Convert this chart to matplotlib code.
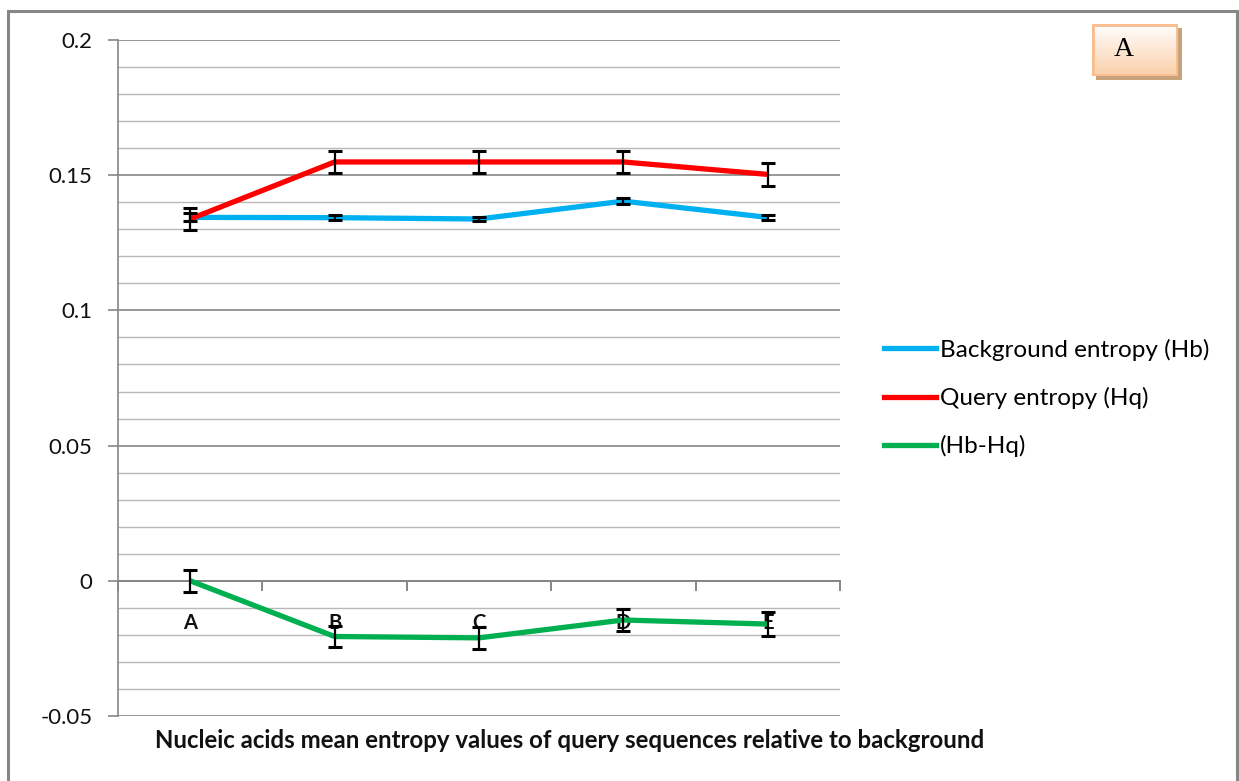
import numpy as np
import matplotlib
matplotlib.use("Agg")
import matplotlib.pyplot as plt
from matplotlib.lines import Line2D
from matplotlib.patches import Rectangle

# ---- data ----
categories = ["A", "B", "C", "D", "E"]
hb = [0.1344, 0.1343, 0.1338, 0.1404, 0.1344]
hb_err = [0.0015, 0.0008, 0.0007, 0.0012, 0.0010]
hq = [0.1338, 0.1549, 0.1549, 0.1549, 0.1503]
hq_err = [0.0040, 0.0040, 0.0040, 0.0040, 0.0043]
diff = [0.0000, -0.0206, -0.0211, -0.0145, -0.0160]
diff_err = [0.0040, 0.0038, 0.0040, 0.0040, 0.0043]
series_names = ["Background entropy (Hb)", "Query entropy (Hq)", "(Hb-Hq)"]
series_colors = ["#00B0F0", "#FF0000", "#00B050"]
y_ticks = [-0.05, 0, 0.05, 0.1, 0.15, 0.2]
y_tick_labels = ["-0.05", "0", "0.05", "0.1", "0.15", "0.2"]
x_title = "Nucleic acids mean entropy values of query sequences relative to background"

W, H = 1239, 781
fig = plt.figure(figsize=(W / 100, H / 100), dpi=100)
fig.patch.set_facecolor("white")

font = "Lato"

# outer chart border
fig.add_artist(Rectangle((8 / W, -0.05), (1237 - 8) / W, (H - 11) / H + 0.05,
                         transform=fig.transFigure, fill=False,
                         edgecolor="#868686", linewidth=2.2))

ax = fig.add_axes([118 / W, (H - 716) / H, (840 - 118) / W, (716 - 40) / H])
x = np.arange(len(categories))

ax.set_xlim(-0.5, len(categories) - 0.5)
ax.set_ylim(-0.05, 0.2)

# gridlines: light every 0.01, darker at the labelled values
for v in np.arange(-0.05, 0.2001, 0.01):
    major = any(abs(v - t) < 1e-9 for t in y_ticks)
    ax.axhline(v, color="#868686" if major else "#B8B8B8",
               linewidth=1.2 if major else 1.0, zorder=1)

for s in ["top", "right"]:
    ax.spines[s].set_visible(False)
ax.spines["left"].set_color("#868686")
ax.spines["left"].set_linewidth(1.2)
ax.spines["bottom"].set_position(("data", 0))
ax.spines["bottom"].set_color("#868686")
ax.spines["bottom"].set_linewidth(1.4)

ax.set_yticks(y_ticks)
ax.set_yticklabels(y_tick_labels, fontfamily=font, fontsize=16, color="#111111")
ax.tick_params(axis="y", length=7.5, width=1.2, color="#868686", pad=11)

ax.set_xticks(x)
ax.set_xticklabels(categories, fontfamily=font, fontsize=14.5,
                   fontweight="bold", color="#111111")
ax.tick_params(axis="x", which="major", length=0, pad=23)
ax.set_xticks(np.arange(-0.5, len(categories)), minor=True)
ax.tick_params(axis="x", which="minor", length=7, width=1.4, color="#868686",
               direction="out")

for vals, errs, col in zip([hb, hq, diff], [hb_err, hq_err, diff_err], series_colors):
    ax.plot(x, vals, color=col, linewidth=3.8, solid_capstyle="butt", zorder=3)
    ax.errorbar(x, vals, yerr=errs, fmt="none", ecolor="black",
                elinewidth=1.6, capsize=5, capthick=2.2, zorder=4)

handles = [Line2D([0], [0], color=c, linewidth=3.8) for c in series_colors]
fig.legend(handles, series_names, loc="center left",
           bbox_to_anchor=(874 / W, 1 - 398 / H), frameon=False,
           prop={"family": font, "size": 17.5}, handlelength=2.15,
           handletextpad=0.18, labelspacing=1.08, borderaxespad=0)

fig.text(570 / W, 1 - 740 / H, x_title, ha="center", va="center",
         fontfamily=font, fontsize=17.3, fontweight="bold", color="#111111")

# "A" panel label box with shadow and gradient fill
bx0, by0, bw, bh = 1092, 24, 86, 52
shadow = fig.add_axes([(bx0 + 4) / W, 1 - (by0 + bh + 4) / H, bw / W, bh / H])
shadow.add_patch(Rectangle((0, 0), 1, 1, facecolor="#C8A27A", edgecolor="none"))
shadow.set_axis_off()
box = fig.add_axes([bx0 / W, 1 - (by0 + bh) / H, bw / W, bh / H])
grad = np.linspace(0, 1, 100)[:, None]
top_c = np.array([1.0, 1.0, 1.0])
bot_c = np.array([0xFB, 0xD0, 0xAA]) / 255
img = top_c * (1 - grad[..., None]) + bot_c * grad[..., None]
img = np.repeat(img, 2, axis=1)
box.imshow(img, extent=(0, 1, 0, 1), aspect="auto", origin="upper")
box.add_patch(Rectangle((0, 0), 1, 1, fill=False, edgecolor="#F9BE8F",
                        linewidth=3.5, transform=box.transAxes))
box.set_xlim(0, 1)
box.set_ylim(0, 1)
box.set_axis_off()
box.text(0.37, 0.5, "A", ha="center", va="center",
         fontfamily="Liberation Serif", fontsize=20, color="black")

fig.savefig("out.png", dpi=100, facecolor="white")
